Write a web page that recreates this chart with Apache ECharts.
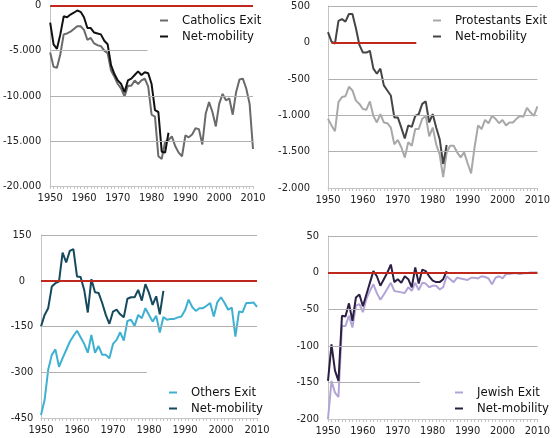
<!DOCTYPE html>
<html><head><meta charset="utf-8">
<script src="https://cdn.jsdelivr.net/npm/echarts@6/dist/echarts.min.js"></script>
<style>html,body{margin:0;padding:0;background:#fff}#c{width:553px;height:438px}</style>
</head><body><div id="c"></div>
<script>
const yearsFull = [];
for (let y = 1950; y <= 2010; y++) yearsFull.push(y);
const xTicks = [1950, 1960, 1970, 1980, 1990, 2000, 2010];

const catholicsExit = [-5200,-6800,-6900,-5400,-3200,-3100,-2900,-2600,-2300,-2300,-2700,-3800,-3600,-4200,-4400,-4500,-5000,-5300,-7200,-7900,-8700,-9200,-10100,-8900,-8900,-8300,-8700,-8300,-8100,-9000,-12100,-12300,-16700,-17000,-15100,-14900,-14500,-15600,-16300,-16700,-14400,-14600,-14300,-13600,-13700,-15400,-12000,-10700,-11800,-13400,-10900,-9800,-10500,-10300,-12100,-9600,-8200,-8100,-9200,-10900,-15900];
const catholicsNet = [-1900,-4300,-4800,-3200,-1200,-1300,-1000,-800,-550,-700,-1300,-2500,-2500,-3000,-3100,-3200,-3900,-4300,-6600,-7600,-8300,-8700,-9600,-8300,-8100,-7700,-7300,-7700,-7400,-7500,-8700,-11600,-11800,-16200,-16300,-14100];

const protestantsExit = [-1050,-1140,-1220,-820,-750,-740,-610,-660,-800,-845,-915,-925,-810,-1010,-1100,-985,-1100,-1110,-1170,-1400,-1340,-1440,-1580,-1370,-1420,-1190,-1190,-1050,-1010,-1290,-1170,-1400,-1540,-1850,-1510,-1420,-1420,-1510,-1580,-1510,-1660,-1800,-1440,-1140,-1190,-1065,-1110,-1010,-1050,-1110,-1065,-1140,-1100,-1100,-1050,-1010,-1020,-900,-960,-1010,-880];
const protestantsNet = [140,10,-15,295,320,285,390,390,195,-35,-140,-140,-115,-360,-430,-360,-590,-660,-730,-1030,-1030,-1170,-1320,-1140,-1160,-1010,-985,-845,-810,-1100,-985,-1170,-1330,-1670,-1410];

const othersExit = [-440,-391,-292,-243,-225,-282,-254,-227,-200,-181,-164,-185,-207,-236,-178,-236,-214,-243,-243,-254,-207,-194,-169,-196,-132,-128,-148,-112,-123,-90,-112,-134,-115,-170,-119,-128,-125,-125,-120,-117,-97,-62,-86,-99,-90,-90,-82,-73,-117,-70,-54,-73,-95,-88,-183,-101,-103,-73,-73,-71,-86];
const othersNet = [-150,-112,-90,-19,-8,-3,92,60,98,104,14,12,-30,-104,5,-38,-40,-73,-112,-141,-101,-95,-110,-120,-59,-54,-54,-30,-65,-11,-40,-79,-51,-110,-33];

const jewishExit = [-200,-148,-164,-170,-73,-73,-59,-75,-45,-43,-54,-36,-25,-16,-28,-37,-30,-22,-14,-25,-26,-27,-28,-20,-25,-14,-24,-14,-15,-20,-18,-18,-23,-20,-5,-9,-13,-7,-8,-9,-10,-7,-7,-8,-5,-6,-8,-16,-7,-5,-8,-2,-2,-1,-1,-2,-1,-1,0,0,0];
const jewishNet = [-148,-98,-134,-148,-59,-60,-42,-66,-34,-30,-46,-30,-14,2,-5,-18,-9,0,11,-13,-9,-14,-5,-9,-20,7,-15,4,2,-5,-11,-13,-13,-9,2];

const panels = [
  {exitName:'Catholics Exit', exit:catholicsExit, net:catholicsNet, exitColor:'#6a6a6a', netColor:'#111111',
   grid:{left:42,right:300,top:4,bottom:252}, y:{min:-20000,max:0,interval:5000},
   fullGrid:[-10000,-15000], partGrid:[[-5000,1978.8]], red:[1950,2010],
   legend:{left:155,top:9}, labelAlign:'right', labelMargin:9},
  {exitName:'Protestants Exit', exit:protestantsExit, net:protestantsNet, exitColor:'#a8a8a8', netColor:'#454545',
   grid:{left:328,right:14,top:6,bottom:250}, y:{min:-2000,max:500,interval:500},
   fullGrid:[500,-500,-1000,-1500], partGrid:[], red:[1951,1975.3],
   legend:{left:428,top:9}, labelAlign:'right', labelMargin:18},
  {exitName:'Others Exit', exit:othersExit, net:othersNet, exitColor:'#3eb1d3', netColor:'#15495d',
   grid:{left:41,right:296,top:235,bottom:20}, y:{min:-450,max:150,interval:150},
   fullGrid:[150,-150], partGrid:[[-300,1979.4]], red:[1950,2010],
   legend:{left:164,top:381}, labelAlign:'center', labelMargin:19},
  {exitName:'Jewish Exit', exit:jewishExit, net:jewishNet, exitColor:'#b3a4d6', netColor:'#2c1f44',
   grid:{left:328,right:10,top:236,bottom:19}, y:{min:-200,max:50,interval:50},
   fullGrid:[50,-50,-100], partGrid:[[-150,1976.4]], red:[1950,2010],
   legend:{left:450,top:381}, labelAlign:'right', labelMargin:9}
];

function fmt(v){
  const s = Math.abs(v).toString().replace(/\B(?=(\d{3})+(?!\d))/g,'.');
  return (v<0?'-':'')+s;
}
const FONT = "'Liberation Sans Narrow','DejaVu Sans Condensed',Lato,sans-serif";

const option = {animation:false, grid:[], xAxis:[], yAxis:[], series:[], legend:[]};
panels.forEach((p,i)=>{
  option.grid.push(Object.assign({containLabel:false}, p.grid));
  option.xAxis.push({type:'value', gridIndex:i, min:1950, max:2010, interval:10,
    axisLine:{show:true, onZero:false, lineStyle:{color:'#c4c4c4', width:1}},
    axisTick:{show:true, length:3, lineStyle:{color:'#c4c4c4'}},
    minorTick:{show:true, splitNumber:10, length:3, lineStyle:{color:'#c4c4c4'}},
    splitLine:{show:false},
    axisLabel:{color:'#222', fontSize:11, fontFamily:FONT, margin:7, formatter:v=>String(v)}
  });
  option.yAxis.push({type:'value', gridIndex:i, min:p.y.min, max:p.y.max, interval:p.y.interval,
    axisLine:{show:true, lineStyle:{color:'#c4c4c4', width:1}},
    axisTick:{show:false}, splitLine:{show:false},
    axisLabel:{color:'#222', fontSize:11, fontFamily:FONT, margin:p.labelMargin, align:p.labelAlign, formatter:fmt}
  });
  const gridLines = p.fullGrid.map(v=>[{coord:[1950,v]},{coord:[2010,v]}])
    .concat(p.partGrid.map(g=>[{coord:[1950,g[0]]},{coord:[g[1],g[0]]}]));
  option.series.push({type:'line', xAxisIndex:i, yAxisIndex:i, data:[], z:1, silent:true,
    markLine:{silent:true, symbol:'none', label:{show:false}, animation:false,
      lineStyle:{color:'#b0b0b0', width:1, type:'solid'}, data:gridLines}});
  const netName = 'Net-mobility ' + (i+1);
  option.series.push({type:'line', name:p.exitName, xAxisIndex:i, yAxisIndex:i, z:2,
    data:yearsFull.map((y,k)=>[y,p.exit[k]]), showSymbol:false, symbol:'none', color:p.exitColor,
    lineStyle:{color:p.exitColor, width:2}});
  option.series.push({type:'line', name:netName, xAxisIndex:i, yAxisIndex:i, z:3,
    data:p.net.map((v,k)=>[yearsFull[k],v]), showSymbol:false, symbol:'none', color:p.netColor,
    lineStyle:{color:p.netColor, width:2}});
  option.series.push({type:'line', xAxisIndex:i, yAxisIndex:i, data:[], z:5, silent:true,
    markLine:{silent:true, symbol:'none', label:{show:false}, animation:false,
      lineStyle:{color:'#c0281e', width:2, type:'solid'},
      data:[[{coord:[p.red[0],0]},{coord:[p.red[1],0]}]]}});
  option.legend.push({orient:'vertical', left:p.legend.left, top:p.legend.top,
    data:[p.exitName, netName], icon:'rect', itemWidth:8, itemHeight:2, itemGap:3,
    selectedMode:false,
    formatter:n=>n.startsWith('Net-mobility')?'Net-mobility':n,
    textStyle:{fontSize:13, color:'#111', fontFamily:FONT, padding:[0,0,0,9]}});
});

const chart = echarts.init(document.getElementById('c'), null, {renderer:'canvas'});
chart.setOption(option);
</script></body></html>
